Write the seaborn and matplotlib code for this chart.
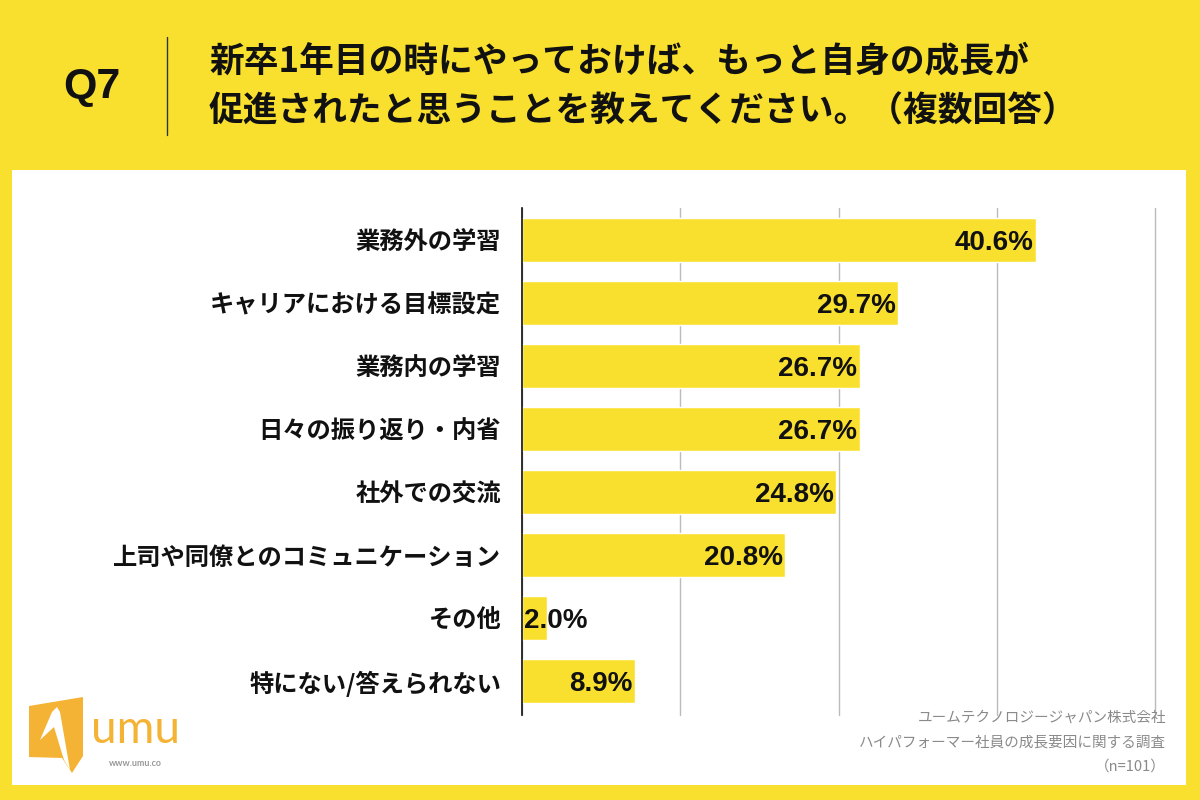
import matplotlib
matplotlib.use("Agg")
import matplotlib.pyplot as plt
import seaborn as sns
import pandas as pd
from matplotlib.patches import Rectangle, Polygon
from matplotlib.lines import Line2D

categories = ["業務外の学習", "キャリアにおける目標設定", "業務内の学習", "日々の振り返り・内省",
              "社外での交流", "上司や同僚とのコミュニケーション", "その他", "特にない/答えられない"]
values = [40.6, 29.7, 26.7, 26.7, 24.8, 20.8, 2.0, 8.9]
x_ticks = [0, 12.5, 25, 37.5, 50]

title_q = "Q7"
title_lines = ["新卒1年目の時にやっておけば、もっと自身の成長が",
               "促進されたと思うことを教えてください。（複数回答）"]
source_lines = ["ユームテクノロジージャパン株式会社",
                "ハイパフォーマー社員の成長要因に関する調査",
                "（n=101）"]

YELLOW = "#F9E02F"
ORANGE = "#F5B335"

sns.set_theme(style="white")
plt.rcParams['font.family'] = ['Noto Sans CJK JP', 'DejaVu Sans']

fig = plt.figure(figsize=(12, 8), dpi=100)
fig.patch.set_facecolor(YELLOW)

# white panel
fig.patches.append(Rectangle((12/1200, 1-785/800), (1186-12)/1200, (785-170)/800,
                             transform=fig.transFigure, facecolor="white", edgecolor="none", zorder=-5))

# header
fig.text(92/1200, 1-87/800, title_q, fontsize=31, fontweight="bold", ha="center", va="center",
         family=['Liberation Sans', 'Noto Sans CJK JP'], color="#111111")
fig.add_artist(Line2D([167/1200, 167/1200], [1-37/800, 1-135/800], transform=fig.transFigure,
                      color="#333333", lw=1))
for i, line in enumerate(title_lines):
    fig.text(209/1200, 1-(61+50*i)/800, line, fontsize=25, fontweight="bold", ha="left",
             va="center", color="#111111")

ax = fig.add_axes([522/1200, 1-715/800, 633/1200, (715-208)/800])
ax.set_zorder(2)
ax.set_facecolor("none")
df = pd.DataFrame({"category": categories, "value": values})
sns.barplot(data=df, x="value", y="category", orient="h", color=YELLOW, saturation=1,
            width=0.7, ax=ax, zorder=3)
ax.set_xlim(0, 50)
ax.set_ylim(len(categories) - 0.46, -0.51)
ax.set_xticks(x_ticks)
ax.set_xticklabels([])
ax.tick_params(axis="x", length=0)
ax.tick_params(axis="y", length=0, pad=15)
ax.grid(axis="x", color="#BBBBBB", lw=1, zorder=0)
for gl in ax.xaxis.get_gridlines():
    gl.set_clip_on(False)
ax.set_axisbelow(True)
ax.set_xlabel("")
ax.set_ylabel("")
for s in ["top", "right", "bottom"]:
    ax.spines[s].set_visible(False)
ax.spines["left"].set_color("#111111")
ax.spines["left"].set_linewidth(1.2)
ax.spines["left"].set_zorder(5)
for lbl in ax.get_yticklabels():
    lbl.set_fontsize(17.5)
    lbl.set_fontweight("bold")
    lbl.set_color("#111111")

for i, v in enumerate(values):
    xpos = max(v, 5.4) - 0.2
    ax.text(xpos, i, f"{v:.1f}%", ha="right", va="center_baseline", fontsize=20, fontweight="bold",
            family=['Liberation Sans', 'DejaVu Sans'], color="#111111", zorder=6)

# source notes
for i, line in enumerate(source_lines):
    fig.text(1166/1200, 1-(718+24.5*i)/800, line, fontsize=10.5, ha="right", va="center",
             color="#8A8A8A")

# logo (approximate)
fig.patches.append(Polygon([(29/1200, 1-706/800), (83/1200, 1-697/800), (83/1200, 1-756/800),
                            (72/1200, 1-773/800), (62/1200, 1-758/800), (29/1200, 1-757/800)],
                           closed=True, transform=fig.transFigure, facecolor=ORANGE,
                           edgecolor="none", zorder=2))
fig.patches.append(Polygon([(40/1200, 1-740/800), (52/1200, 1-712/800), (57/1200, 1-707/800),
                            (60/1200, 1-712/800), (70/1200, 1-770/800), (64/1200, 1-760/800),
                            (54/1200, 1-727/800)],
                           closed=True, transform=fig.transFigure, facecolor="white",
                           edgecolor="none", zorder=3))
fig.text(135/1200, 1-730/800, "umu", fontsize=33, ha="center", va="center", color=ORANGE,
         family=['Lato', 'DejaVu Sans'])
fig.text(135/1200, 1-763/800, "www.umu.co", fontsize=6.5, ha="center", va="center",
         color="#999999", fontweight="bold", family=['Lato', 'DejaVu Sans'])

fig.savefig("out.png", dpi=100, facecolor=YELLOW)
